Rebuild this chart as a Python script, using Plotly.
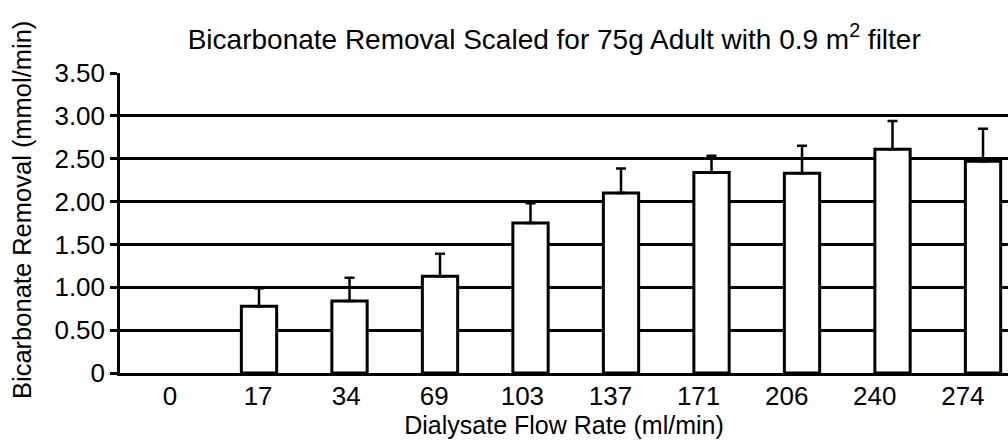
import plotly.graph_objects as go

# Data
flow_rates = ["0", "17", "34", "69", "103", "137", "171", "206", "240", "274"]
removal = [None, 0.78, 0.84, 1.13, 1.75, 2.10, 2.34, 2.33, 2.61, 2.47]
error_up = [None, 0.21, 0.27, 0.26, 0.23, 0.285, 0.195, 0.32, 0.33, 0.38]
y_tickvals = [0, 0.5, 1.0, 1.5, 2.0, 2.5, 3.0, 3.5]
y_ticktext = ["0", "0.50", "1.00", "1.50", "2.00", "2.50", "3.00", "3.50"]

FONT = "Liberation Sans, Arial, Helvetica, sans-serif"

W, H = 1008, 441

fig = go.Figure()

fig.add_trace(go.Bar(
    x=flow_rates,
    y=removal,
    width=0.39,
    marker=dict(color="white", line=dict(color="black", width=3)),
    error_y=dict(type="data", array=error_up, symmetric=False,
                 arrayminus=[0] * len(error_up),
                 color="black", thickness=2.5, width=5),
    xaxis="x", yaxis="y",
    showlegend=False,
    hoverinfo="x+y",
))

# invisible trace to carry the category tick labels on the label axis
fig.add_trace(go.Scatter(
    x=flow_rates,
    y=[0] * len(flow_rates),
    mode="markers",
    marker=dict(opacity=0),
    xaxis="x2", yaxis="y",
    showlegend=False,
    hoverinfo="skip",
))

fig.update_layout(
    width=W, height=H,
    margin=dict(l=120, r=0, t=73, b=68),
    paper_bgcolor="white",
    plot_bgcolor="white",
    font=dict(family=FONT, color="black", size=26),
    title=dict(
        text="Bicarbonate Removal Scaled for 75g Adult with 0.9 m<sup>2</sup> filter",
        font=dict(size=28, family=FONT, color="black"),
        xref="paper", x=0.489, xanchor="center",
        yref="container", y=1 - 39 / H, yanchor="middle",
    ),
    xaxis=dict(
        type="category",
        categoryorder="array", categoryarray=flow_rates,
        range=[-0.536, 9.276],
        showticklabels=False,
        ticks="",
        showgrid=False,
        showline=True, linecolor="black", linewidth=2.5,
        zeroline=False,
    ),
    xaxis2=dict(
        type="category",
        categoryorder="array", categoryarray=flow_rates,
        overlaying="x", anchor="y", side="bottom",
        range=[-0.5675, 9.512],
        showline=False, showgrid=False, zeroline=False,
        ticks="",
        ticklabelstandoff=5,
        tickfont=dict(size=26, family=FONT, color="black"),
        title=dict(text="Dialysate Flow Rate (ml/min)",
                   font=dict(size=25, family=FONT, color="black"),
                   standoff=0),
    ),
    yaxis=dict(
        range=[0, 3.5],
        tickvals=y_tickvals, ticktext=y_ticktext,
        tickfont=dict(size=26, family=FONT, color="black"),
        showgrid=True, gridcolor="black", gridwidth=2.5,
        showline=True, linecolor="black", linewidth=2.5,
        ticks="outside", ticklen=7, tickwidth=2.5, tickcolor="black",
        zeroline=False,
    ),
    annotations=[dict(
        text="Bicarbonate Removal (mmol/min)",
        textangle=-90,
        xref="paper", yref="paper",
        x=(22 - 120) / 888, y=(368 - 205) / 300,
        xanchor="center", yanchor="middle",
        showarrow=False,
        font=dict(size=25.5, family=FONT, color="black"),
    )],
)

fig.write_html(
    "out.html",
    config={"displayModeBar": False},
    post_script="document.body.style.margin='0';document.body.style.overflow='hidden';",
)
